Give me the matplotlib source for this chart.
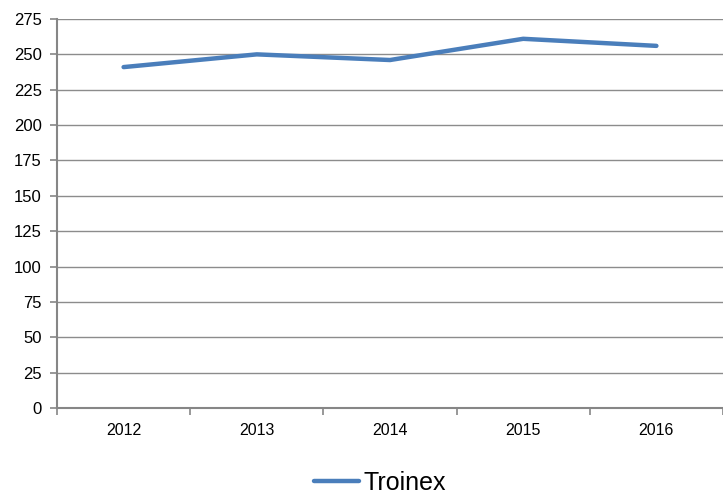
import matplotlib.pyplot as plt

years = ["2012", "2013", "2014", "2015", "2016"]
troinex = [241, 250, 246, 261, 256]
y_ticks = list(range(0, 276, 25))

plt.rcParams["font.family"] = ["Liberation Sans", "DejaVu Sans"]

fig = plt.figure(figsize=(7.23, 4.95), dpi=100)
ax = fig.add_axes([57 / 723, 87 / 495, 666 / 723, 389 / 495])

x = list(range(len(years)))
ax.plot(x, troinex, color="#4A7EBB", linewidth=3.2, solid_capstyle="round",
        label="Troinex", zorder=3)

ax.set_xlim(-0.5, len(years) - 0.5)
ax.set_ylim(0, 275)
ax.set_yticks(y_ticks)
ax.tick_params(axis="y", labelsize=12, length=5, color="#868686", width=1.2, pad=6)

# category labels centred, tick marks on the boundaries
ax.set_xticks(x)
ax.set_xticklabels(years, fontsize=11.5)
ax.set_xticks([i - 0.5 for i in range(len(years) + 1)], minor=True)
ax.tick_params(axis="x", which="major", length=0, pad=10.5)
ax.tick_params(axis="x", which="minor", length=5, color="#868686", width=1.2)

ax.grid(axis="y", color="#8C8C8C", linewidth=1)
ax.set_axisbelow(True)
for side in ["top", "right"]:
    ax.spines[side].set_visible(False)
for side in ["left", "bottom"]:
    ax.spines[side].set_color("#868686")
    ax.spines[side].set_linewidth(1.5)

fig.legend(loc="center", bbox_to_anchor=(380 / 723, 1 - 483 / 495), frameon=False,
           fontsize=18, handlelength=1.8, handletextpad=0.15)

plt.savefig("out.png", dpi=100)
